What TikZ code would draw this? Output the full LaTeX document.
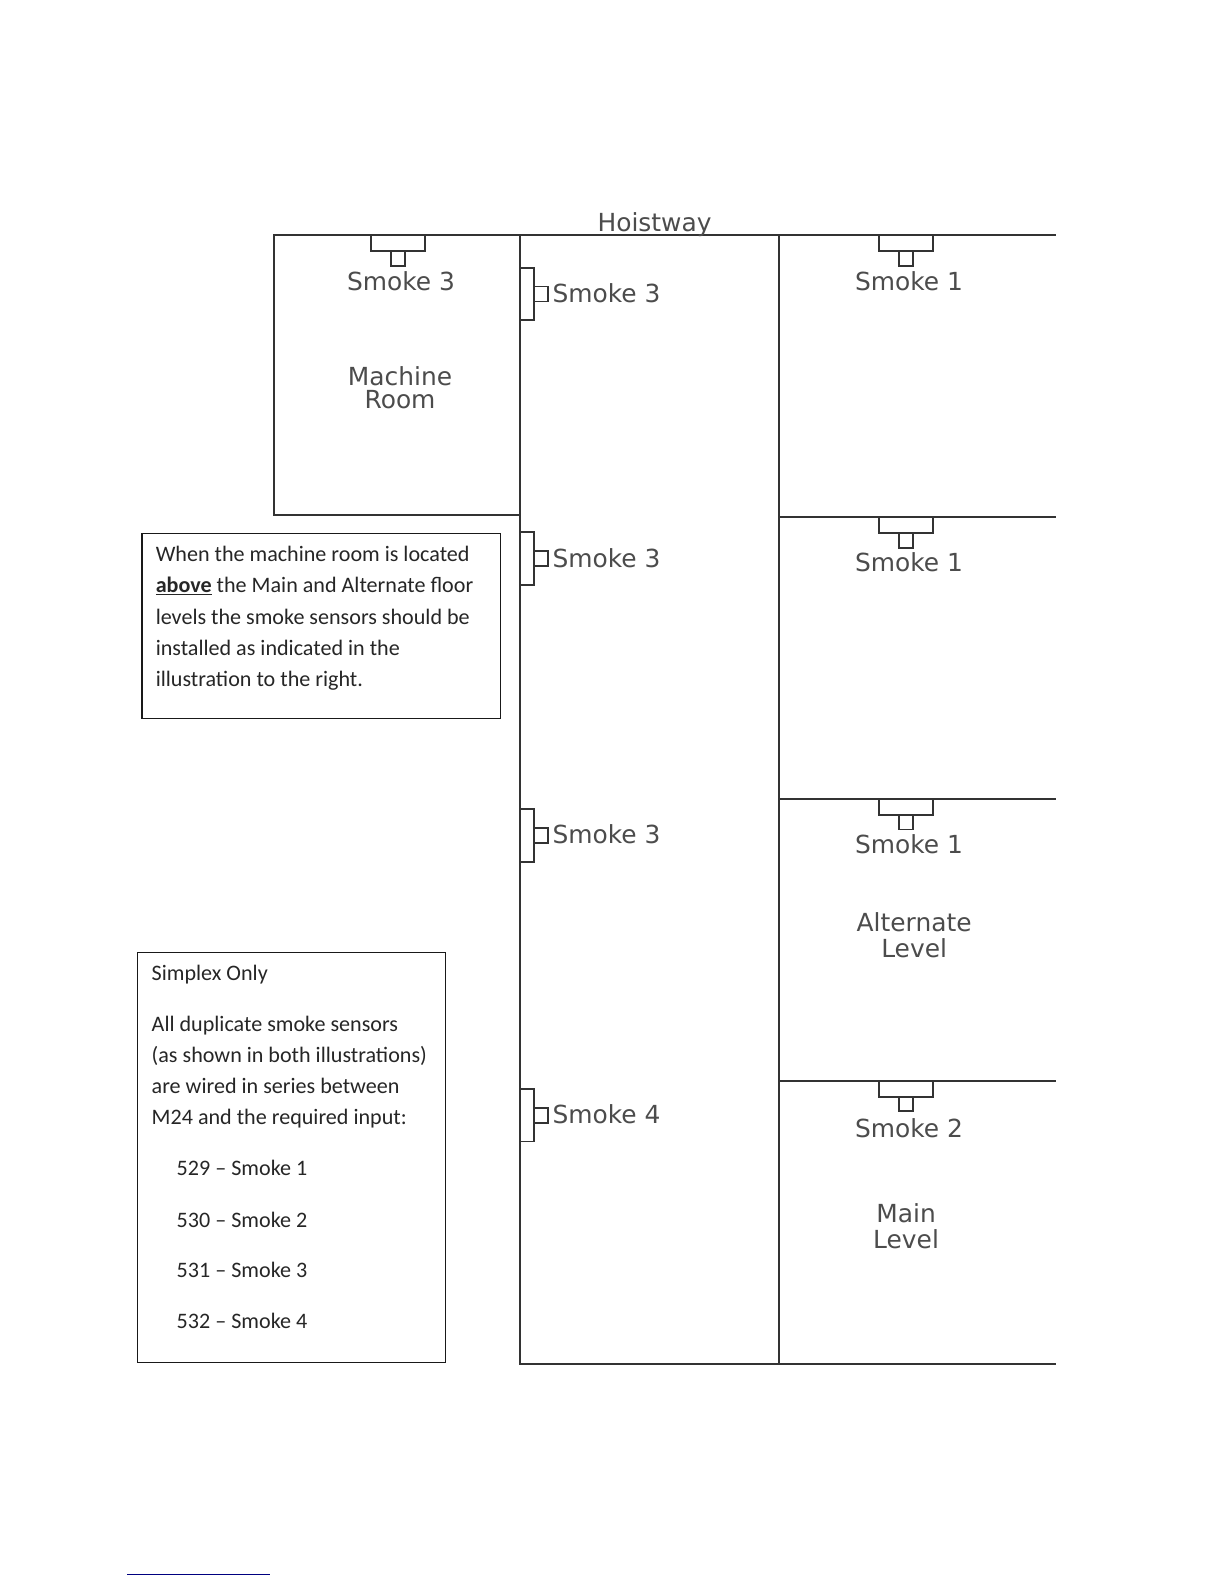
\documentclass[tikz,border=0pt]{standalone}
\usepackage{fontspec}
\setmainfont{Carlito}
\newfontfamily\labelfont{DejaVu Sans}
\usetikzlibrary{positioning}
\tikzset{
    wall/.style = {line width=2pt,draw=black!80},
    notebox/.style = {rectangle, line width=1.1pt, draw=black!90, inner sep=0pt},
    notetext/.style = {align=left, inner sep=0pt, anchor=north west, text=black!85, font=\fontsize{22.1}{31.3}\selectfont},
    place/.style = {align=center, inner sep=0pt, text=black!70, font=\labelfont\fontsize{24.9}{25.5}\selectfont},
    bodyh/.style = {rectangle, line width=1.8pt, draw=black!80, fill=white, inner sep=0pt, outer sep=0pt, minimum width=53.5pt, minimum height=16pt, anchor=north},
    stemh/.style = {rectangle, line width=1.8pt, draw=black!80, fill=white, inner sep=0pt, outer sep=0pt, minimum width=14.5pt, minimum height=14.5pt, anchor=north},
    bodyv/.style = {rectangle, line width=1.8pt, draw=black!80, fill=white, inner sep=0pt, outer sep=0pt, minimum width=13.5pt, minimum height=52.5pt, anchor=west},
    stemv/.style = {rectangle, line width=1.8pt, draw=black!80, fill=white, inner sep=0pt, outer sep=0pt, minimum width=14pt, minimum height=15pt, anchor=west},
}
\begin{document}
\begin{tikzpicture}[x=1.0101pt,y=-1.0101pt]
  \useasboundingbox (0pt,0pt) rectangle (1224pt,-1584pt);

  % walls
  \coordinate (mrtl) at (271,233);
  \coordinate (mrbl) at (271,510);
  \coordinate (mrbr) at (515,510);
  \coordinate (hwtl) at (515,233);
  \coordinate (hwbl) at (515,1350);
  \coordinate (hwtr) at (771,233);
  \coordinate (hwbr) at (771,1350);
  \coordinate (endt) at (1045,233);
  \coordinate (endb) at (1045,1350);
  \coordinate (flra) at (771,512);
  \coordinate (flrb) at (771,791);
  \coordinate (flrc) at (771,1070);
  \coordinate (enda) at (1045,512);
  \coordinate (endc) at (1045,791);
  \coordinate (endd) at (1045,1070);

  % sensors on the ceilings
  \node[bodyh] at (394,233) (sa) {};
  \node[stemh,below=0pt of sa] (sas) {};
  \node[bodyh] at (897,233) (sb) {};
  \node[stemh,below=0pt of sb] (sbs) {};
  \node[bodyh] at (897,512) (sc) {};
  \node[stemh,below=0pt of sc] (scs) {};
  \node[bodyh] at (897,791) (sd) {};
  \node[stemh,below=0pt of sd] (sds) {};
  \node[bodyh] at (897,1070) (se) {};
  \node[stemh,below=0pt of se] (ses) {};

  % sensors on the hoistway wall
  \node[bodyv] at (515,291) (va) {};
  \node[stemv,right=0pt of va] (vas) {};
  \node[bodyv] at (515,553) (vb) {};
  \node[stemv,right=0pt of vb] (vbs) {};
  \node[bodyv] at (515,827) (vc) {};
  \node[stemv,right=0pt of vc] (vcs) {};
  \node[bodyv] at (515,1104) (vd) {};
  \node[stemv,right=0pt of vd] (vds) {};

  \draw[wall] (endt) -- (mrtl) -- (mrbl) -- (mrbr);
  \draw[wall] (hwtl) -- (hwbl) -- (endb);
  \draw[wall] (hwtr) -- (hwbr);
  \draw[wall] (flra) -- (enda);
  \draw[wall] (flrb) -- (endc);
  \draw[wall] (flrc) -- (endd);

  % labels
  \node[place] at (648,222) (hoist) {Hoistway};
  \node[place] at (397,278.5) (la) {Smoke 3};
  \node[place] at (600.5,290.5) (lb) {Smoke 3};
  \node[place] at (600.5,552.5) (lc) {Smoke 3};
  \node[place] at (600.5,825.5) (ld) {Smoke 3};
  \node[place] at (600.5,1103) (le) {Smoke 4};
  \node[place] at (900,278.5) (lf) {Smoke 1};
  \node[place] at (900,556.5) (lg) {Smoke 1};
  \node[place] at (900,835.5) (lh) {Smoke 1};
  \node[place] at (900,1116.5) (li) {Smoke 2};
  \node[place] at (396,384) (mach) {Machine\\[-2pt]Room};
  \node[place] at (905,926) (alt) {Alternate\\Level};
  \node[place] at (897,1214) (mainl) {Main\\Level};

  % notes
  \node[notebox,minimum width=358.6pt,minimum height=184.8pt,anchor=north west] at (140,528) (noteup) {};
  \node[notetext] at (154,540.5) (noteuptext) {When the machine room is located\\
    \underline{\textbf{above}} the Main and Alternate floor\\
    levels the smoke sensors should be\\
    installed as indicated in the\\
    illustration to the right.};
  \node[notebox,minimum width=308pt,minimum height=410pt,anchor=north west] at (136,942) (notelow) {};
  \node[notetext] at (150,955) (notelowtext) {Simplex Only\\[19.5pt]
    All duplicate smoke sensors\\
    (as shown in both illustrations)\\
    are wired in series between\\
    M24 and the required input:\\[19.5pt]
    \hspace{25pt}529 -- Smoke 1\\[20pt]
    \hspace{25pt}530 -- Smoke 2\\[19.5pt]
    \hspace{25pt}531 -- Smoke 3\\[19.5pt]
    \hspace{25pt}532 -- Smoke 4};

  % rule at the foot of the page
  \coordinate (rulel) at (126,1559);
  \coordinate (ruler) at (267,1559);
  \draw[line width=1.2pt,blue!50!black] (rulel) -- (ruler);
\end{tikzpicture}
\end{document}
